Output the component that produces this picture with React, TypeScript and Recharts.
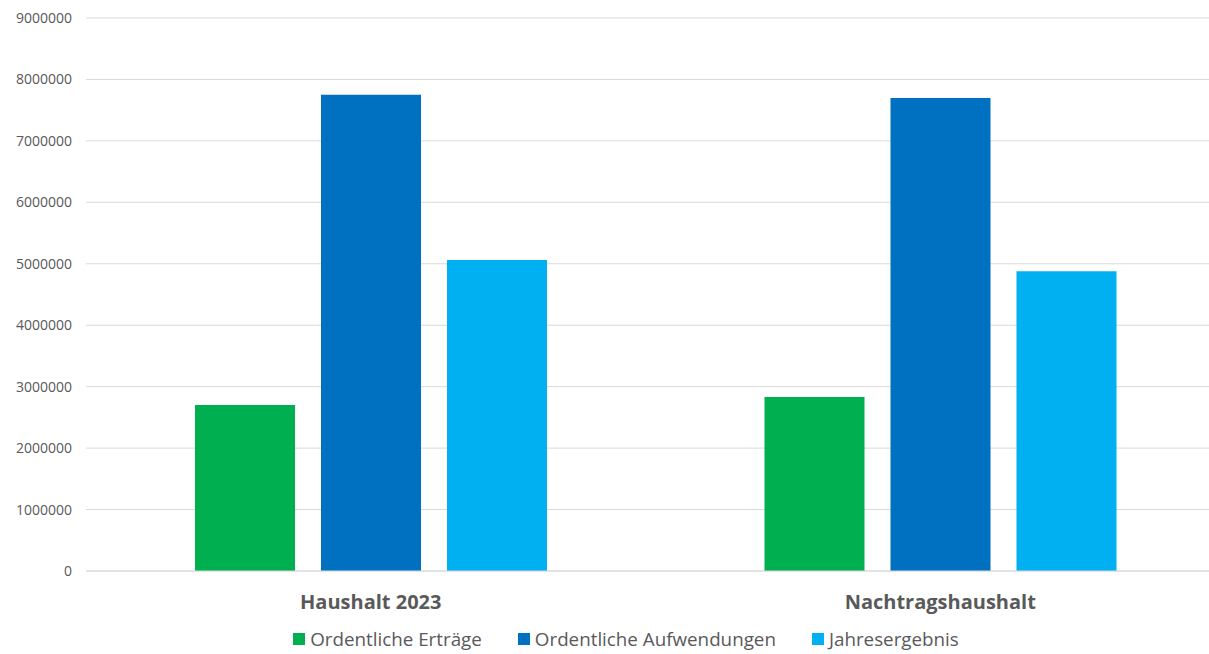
import React from "react";
import { BarChart, Bar, XAxis, YAxis, CartesianGrid, Legend } from "recharts";

const categories = ["Haushalt 2023", "Nachtragshaushalt"];
const ertraege = [2700000, 2830000];
const aufwendungen = [7750000, 7700000];
const jahresergebnis = [5060000, 4880000];
const yTicks = [0, 1000000, 2000000, 3000000, 4000000, 5000000, 6000000, 7000000, 8000000, 9000000];

const series = [
  { key: "ertraege", name: "Ordentliche Erträge", color: "#00B050" },
  { key: "aufwendungen", name: "Ordentliche Aufwendungen", color: "#0070C0" },
  { key: "jahresergebnis", name: "Jahresergebnis", color: "#00B0F0" },
];

const data = categories.map((name, i) => ({
  name,
  ertraege: ertraege[i],
  aufwendungen: aufwendungen[i],
  jahresergebnis: jahresergebnis[i],
}));

const font = "'Open Sans', 'Noto Sans', sans-serif";

const LegendContent = () => (
  <div
    style={{
      display: "flex",
      justifyContent: "center",
      paddingLeft: 27,
      fontFamily: font,
      fontSize: 18.8,
      lineHeight: "26px",
      color: "#595959",
    }}
  >
    {series.map((s) => (
      <div key={s.key} style={{ display: "flex", alignItems: "center", margin: "0 18px" }}>
        <span style={{ width: 12, height: 12, background: s.color, marginRight: 5, display: "inline-block" }} />
        <span>{s.name}</span>
      </div>
    ))}
  </div>
);

export default function App() {
  return (
    <div
      style={{
        position: "fixed",
        left: 0,
        top: 0,
        width: 1209,
        height: 654,
        overflow: "hidden",
        background: "#fff",
      }}
    >
      <BarChart
        width={1225}
        height={654}
        data={data}
        margin={{ top: 18, right: 0, left: 0, bottom: 0 }}
        barSize={100}
        barGap={26}
      >
        <CartesianGrid vertical={false} stroke="#d9d9d9" />
        <XAxis
          dataKey="name"
          axisLine={{ stroke: "#d9d9d9" }}
          tickLine={false}
          tickSize={0}
          tickMargin={24}
          height={55}
          tick={{ fill: "#595959", fontSize: 20, fontWeight: 700, fontFamily: font }}
        />
        <YAxis
          domain={[0, 9000000]}
          ticks={yTicks}
          interval={0}
          width={86}
          axisLine={false}
          tickLine={false}
          tickSize={0}
          tickMargin={14}
          tick={{ fill: "#595959", fontSize: 14, fontFamily: font }}
        />
        <Legend verticalAlign="bottom" content={<LegendContent />} height={28} />
        {series.map((s) => (
          <Bar key={s.key} dataKey={s.key} name={s.name} fill={s.color} isAnimationActive={false} />
        ))}
      </BarChart>
    </div>
  );
}
